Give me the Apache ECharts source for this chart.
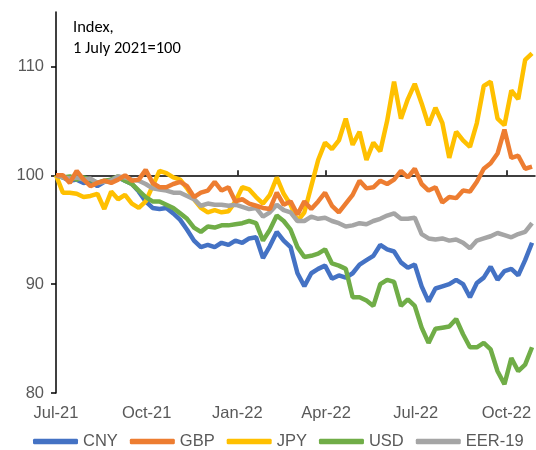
<!DOCTYPE html>
<html>
<head>
<meta charset="utf-8">
<script src="https://cdn.jsdelivr.net/npm/echarts@6/dist/echarts.min.js"></script>
<style>
  html, body { margin: 0; padding: 0; background: #fff; }
  #chart { width: 536px; height: 450px; }
</style>
</head>
<body>
<div id="chart"></div>
<script>
// weekly readings, first point 1 July 2021; x is counted in days from that date
var startDate = Date.UTC(2021, 6, 1);
var tickDates = ['2021-07-01', '2021-10-01', '2022-01-01', '2022-04-01', '2022-07-01', '2022-10-01'];
var tickLabels = ['Jul-21', 'Oct-21', 'Jan-22', 'Apr-22', 'Jul-22', 'Oct-22'];
var yTicks = [80, 90, 100, 110];

var cny = [100, 99.8, 99.5, 99.6, 99.3, 99.4, 99.0, 99.4, 99.6, 99.8,
  99.5, 99.2, 98.5, 97.6, 97.0, 96.9, 97.0, 96.5, 95.9, 95.0,
  94.0, 93.4, 93.6, 93.4, 93.8, 93.6, 94.0, 93.8, 94.2, 94.3,
  92.4, 93.5, 94.8, 94.0, 93.4, 91.0, 89.8, 91.0, 91.4, 91.7,
  90.5, 90.8, 90.6, 91.0, 91.8, 92.2, 92.6, 93.6, 93.2, 93.0,
  92.0, 91.5, 91.8, 89.8, 88.4, 89.6, 89.8, 90.0, 90.4, 90.0,
  88.8, 90.1, 90.6, 91.6, 90.4, 91.2, 91.4, 90.8, 92.2, 93.8];

var gbp = [100, 100.0, 99.3, 100.4, 99.6, 99.0, 99.3, 99.5, 99.3, 99.6,
  100.0, 99.5, 99.6, 100.5, 99.3, 98.9, 98.9, 99.2, 99.4, 99.0,
  98.0, 98.4, 98.6, 99.4, 98.6, 98.9, 97.6, 97.8, 97.4, 97.2,
  97.0, 96.9, 98.4, 97.3, 97.6, 96.4, 97.6, 96.9, 97.6, 98.4,
  97.2, 96.6, 97.4, 98.2, 99.5, 98.8, 98.9, 99.5, 99.2, 99.6,
  100.4, 99.8, 100.6, 99.2, 98.6, 98.9, 97.5, 98.0, 97.9, 98.6,
  98.5, 99.4, 100.6, 101.1, 102.0, 104.2, 101.6, 101.8, 100.6, 100.8];

var jpy = [100, 98.4, 98.4, 98.3, 98.0, 98.1, 98.3, 96.9, 98.5, 97.8,
  98.2, 97.4, 97.0, 97.6, 99.0, 100.4, 100.2, 99.8, 99.6, 98.8,
  97.8, 97.0, 96.6, 96.8, 96.6, 96.7, 97.6, 98.9, 98.7, 98.0,
  97.4, 98.2, 99.8, 98.3, 97.3, 95.8, 96.6, 99.0, 101.4, 103.0,
  102.4, 103.2, 105.2, 102.8, 104.0, 101.4, 103.0, 102.2, 105.0, 108.6,
  105.2, 107.0, 108.4, 106.6, 104.6, 106.2, 104.8, 101.6, 104.0, 103.2,
  102.6, 104.8, 108.2, 108.6, 105.2, 104.6, 107.8, 107.0, 110.6, 111.2];

var usd = [100, 99.8, 99.9, 99.6, 99.8, 99.6, 99.3, 99.5, 99.6, 99.9,
  99.5, 99.2, 98.6, 98.0, 97.6, 97.6, 97.3, 97.0, 96.5, 96.0,
  95.2, 94.8, 95.3, 95.2, 95.4, 95.4, 95.5, 95.6, 95.8, 95.6,
  94.0, 95.0, 96.3, 95.8, 95.0, 93.4, 92.5, 92.6, 92.8, 93.2,
  91.9, 91.7, 91.4, 88.8, 88.8, 88.5, 88.0, 90.0, 90.4, 90.2,
  88.0, 88.6, 88.0, 86.0, 84.6, 85.9, 86.0, 86.1, 86.8, 85.4,
  84.2, 84.2, 84.6, 84.0, 82.0, 80.8, 83.2, 82.0, 82.6, 84.2];

var eer = [100, 99.8, 99.7, 99.8, 99.6, 99.7, 99.3, 99.4, 99.5, 99.9,
  99.8, 99.6, 99.5, 99.2, 98.8, 98.7, 98.6, 98.4, 98.4, 98.1,
  97.8, 97.2, 97.4, 97.3, 97.3, 97.2, 97.3, 97.1, 96.9, 97.0,
  96.2, 96.6, 97.3, 96.8, 96.6, 95.8, 95.8, 96.2, 96.0, 96.1,
  95.8, 95.6, 95.3, 95.4, 95.6, 95.5, 95.8, 96.0, 96.3, 96.5,
  96.0, 96.0, 96.1, 94.6, 94.2, 94.1, 94.2, 94.0, 94.1, 93.8,
  93.3, 94.0, 94.2, 94.4, 94.7, 94.5, 94.3, 94.6, 94.8, 95.6];

var names = ['CNY', 'GBP', 'JPY', 'USD', 'EER-19'];
var colors = ['#4472C4', '#ED7D31', '#FFC000', '#70AD47', '#A5A5A5'];
var values = [cny, gbp, jpy, usd, eer];

var DAY = 86400000;
function dayOf(s) {
  return Math.round((Date.parse(s) - startDate) / DAY);
}
var tickDays = tickDates.map(dayOf);
var lastDay = dayOf('2022-10-30');

var grid = { left: 56, right: 1, top: 12, bottom: 57 };
var yMin = 80, yMax = 115;
// pixel offset that puts the second x axis on the 100 line
var plotH = 450 - grid.top - grid.bottom;
var lineOffset = -(100 - yMin) / (yMax - yMin) * plotH;

var series = names.map(function (n, k) {
  return {
    name: n,
    type: 'line',
    showSymbol: false,
    symbol: 'none',
    lineStyle: { width: 4.5, color: colors[k] },
    itemStyle: { color: colors[k] },
    z: k === 1 ? 3 : 2,
    data: values[k].map(function (v, i) {
      return [i * 7, v];
    })
  };
});

var axisFont = { fontFamily: 'Liberation Sans', fontSize: 16.5, color: '#595959' };

var chart = echarts.init(document.getElementById('chart'), null, { renderer: 'canvas' });
chart.setOption({
  backgroundColor: '#ffffff',
  animation: false,
  color: colors,
  title: {
    text: 'Index,\n1 July 2021=100',
    left: 73,
    top: 17,
    padding: 0,
    textStyle: { fontFamily: 'Carlito, Lato', fontSize: 16.5, fontWeight: 'normal', color: '#000', lineHeight: 21 }
  },
  grid: grid,
  legend: {
    data: names,
    left: 28,
    bottom: -5,
    icon: 'roundRect',
    itemWidth: 45,
    itemHeight: 5.5,
    itemGap: 12,
    textStyle: axisFont
  },
  xAxis: [{
    type: 'value',
    min: 0,
    max: lastDay,
    axisLine: { show: false },
    axisTick: { show: false },
    splitLine: { show: false },
    axisLabel: {
      customValues: tickDays,
      formatter: function (v) {
        return tickLabels[tickDays.indexOf(v)] || '';
      },
      margin: 12,
      fontFamily: axisFont.fontFamily,
      fontSize: axisFont.fontSize,
      color: axisFont.color
    }
  }, {
    type: 'value',
    min: 0,
    max: lastDay,
    position: 'bottom',
    offset: lineOffset,
    axisLine: { show: true, onZero: false, lineStyle: { color: '#000', width: 1.5 } },
    axisTick: { show: true, inside: true, length: 5, customValues: tickDays, lineStyle: { color: '#000', width: 1.5 } },
    axisLabel: { show: false },
    splitLine: { show: false }
  }],
  yAxis: {
    type: 'value',
    min: yMin,
    max: yMax,
    interval: 10,
    axisLine: { show: true, lineStyle: { color: '#000', width: 1.5 } },
    axisTick: { show: true, length: 5, customValues: yTicks, lineStyle: { color: '#000', width: 1.5 } },
    splitLine: { show: false },
    axisLabel: {
      customValues: yTicks,
      margin: 12,
      fontFamily: axisFont.fontFamily,
      fontSize: axisFont.fontSize,
      color: axisFont.color
    }
  },
  series: series
});
</script>
</body>
</html>
